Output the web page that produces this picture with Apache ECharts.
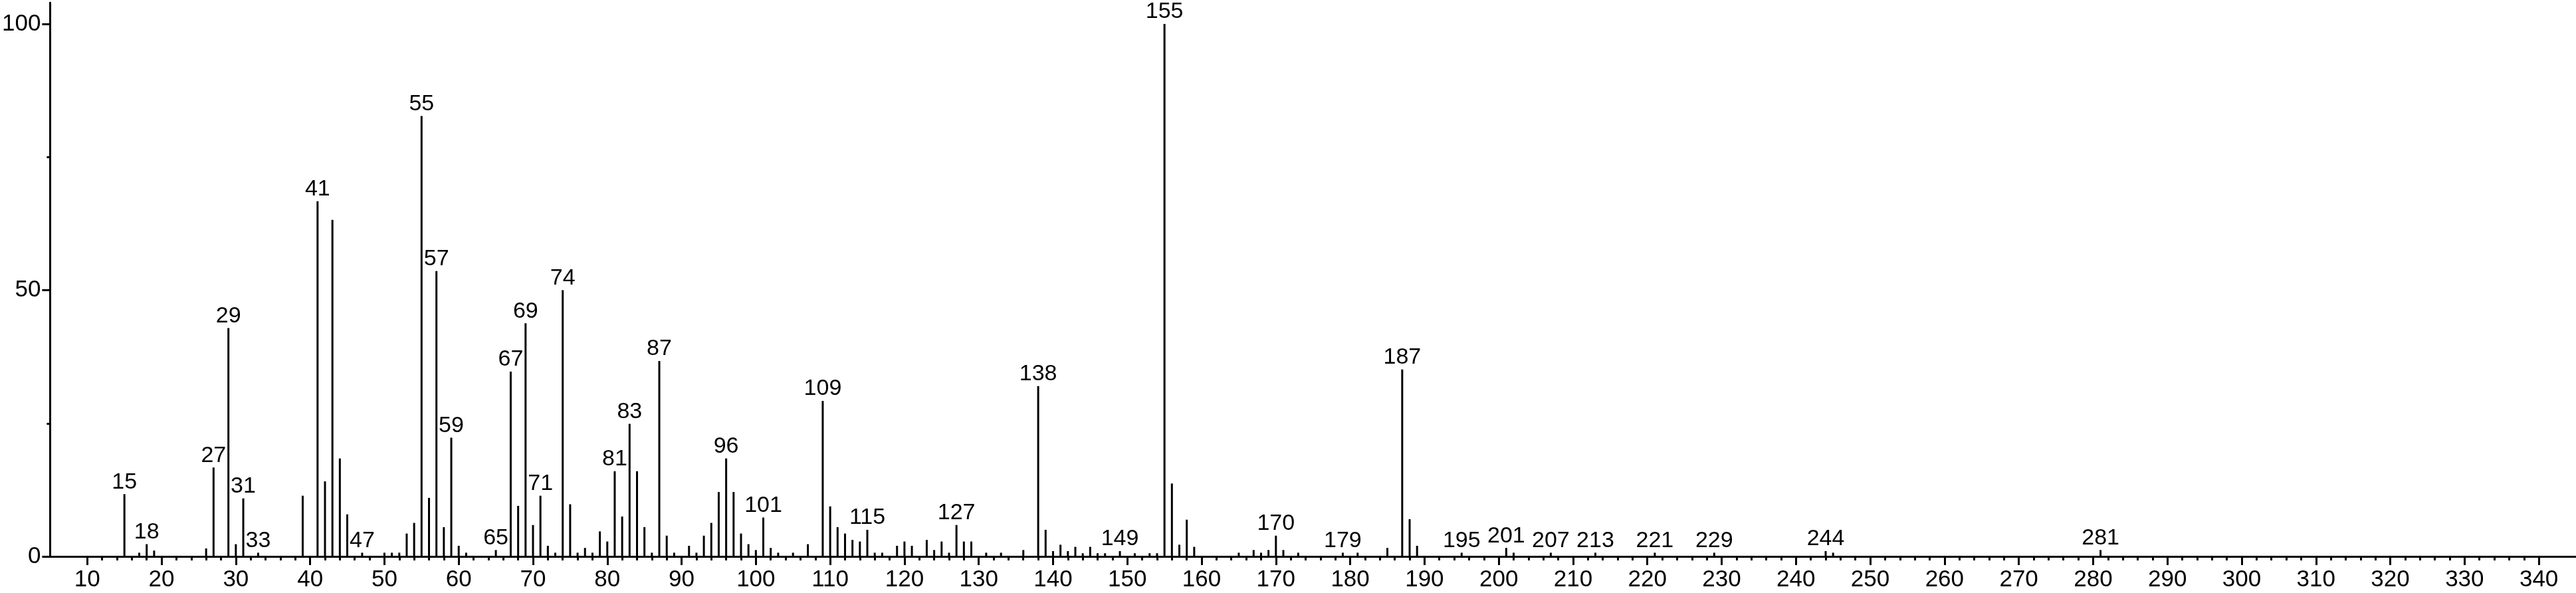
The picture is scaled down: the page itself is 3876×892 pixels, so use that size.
<!DOCTYPE html>
<html>
<head>
<meta charset="utf-8">
<script src="https://cdn.jsdelivr.net/npm/echarts@6/dist/echarts.min.js"></script>
<style>
html,body{margin:0;padding:0;background:#fff;}
#chart{width:3876px;height:892px;}
</style>
</head>
<body>
<div id="chart"></div>
<script>
// m/z values of the peaks
const mzValues = [15,17,18,19,26,27,29,30,31,33,39,41,42,43,44,45,47,50,51,52,53,54,55,56,57,58,59,60,61,65,67,68,69,70,71,72,73,74,75,76,77,78,79,80,81,82,83,84,85,86,87,88,89,91,92,93,94,95,96,97,98,99,100,101,102,103,105,107,109,110,111,112,113,114,115,116,117,119,120,121,123,124,125,126,127,128,129,131,133,136,138,139,140,141,142,143,144,145,146,147,149,151,153,154,155,156,157,158,159,165,167,168,169,170,171,173,179,181,185,187,188,189,195,201,202,207,213,221,229,244,245,281];
// relative intensities (%)
const intensities = [11.7,0.7,2.3,1.1,1.5,16.7,42.9,2.3,10.9,0.7,11.4,66.7,14.1,63.2,18.4,7.9,0.7,0.7,0.7,0.7,4.3,6.3,82.7,11.0,53.6,5.5,22.3,2.0,0.7,1.2,34.7,9.5,43.8,5.9,11.4,2.0,0.7,50.0,9.8,0.7,1.6,0.7,4.7,2.8,16.0,7.5,24.9,16.0,5.5,0.7,36.7,3.9,0.7,2.0,0.7,3.9,6.3,12.1,18.4,12.1,4.3,2.3,1.2,7.3,1.6,0.7,0.7,2.3,29.2,9.4,5.5,4.3,3.1,2.8,5.0,0.7,0.7,2.0,2.8,2.0,3.1,1.2,2.8,0.7,5.9,2.8,2.8,0.7,0.7,1.2,32.0,5.0,1.0,2.2,1.0,1.8,0.6,1.8,0.6,0.6,1.0,0.6,0.6,0.6,100,13.7,2.2,6.9,1.8,0.7,1.2,0.7,1.2,3.9,1.2,0.7,0.7,0.7,1.6,35.1,7.0,2.0,0.7,1.6,0.7,0.7,0.7,0.7,0.7,1.0,0.7,1.2];
// peaks that carry an m/z label
const labeledPeaks = [15,18,27,29,31,33,41,47,55,57,59,65,67,69,71,74,81,83,87,96,101,109,115,127,138,149,155,170,179,187,195,201,207,213,221,229,244,281];
// axis tick labels
const xTickLabels = [10,20,30,40,50,60,70,80,90,100,110,120,130,140,150,160,170,180,190,200,210,220,230,240,250,260,270,280,290,300,310,320,330,340];
const yTickLabels = [0,50,100];
const yMinorTicks = [25,75];

const xMinorTicks = [];
xTickLabels.forEach(function(t, i){
  if (i < xTickLabels.length - 1) { for (let k = 2; k < 10; k += 2) xMinorTicks.push(t + k); }
});

const FONT = '"Liberation Sans", Arial, Helvetica, sans-serif';

const barData = mzValues.map(function(m, i){
  const item = { value: [m, intensities[i]] };
  if (labeledPeaks.indexOf(m) >= 0) item.label = { show: true };
  return item;
});

const chart = echarts.init(document.getElementById('chart'), null, {renderer: 'canvas'});
chart.setOption({
  animation: false,
  backgroundColor: '#ffffff',
  grid: { left: 69, right: 0, top: 4, bottom: 55, containLabel: false },
  xAxis: [{
    type: 'value', min: 5, max: 345, position: 'bottom',
    axisLine: { show: true, onZero: false, lineStyle: { color: '#000', width: 3 } },
    axisTick: { show: true, inside: false, length: 13, customValues: xTickLabels, lineStyle: { color: '#000', width: 3 } },
    axisLabel: { show: true, customValues: xTickLabels, margin: 18, color: '#000', fontSize: 35, fontFamily: FONT },
    splitLine: { show: false }
  }, {
    type: 'value', min: 5, max: 345, position: 'bottom',
    axisLine: { show: false, onZero: false },
    axisTick: { show: true, inside: false, length: 6, customValues: xMinorTicks, lineStyle: { color: '#000', width: 3 } },
    axisLabel: { show: false },
    splitLine: { show: false }
  }],
  yAxis: [{
    type: 'value', min: 0, max: 104, position: 'left',
    axisLine: { show: true, onZero: false, lineStyle: { color: '#000', width: 3 } },
    axisTick: { show: true, inside: false, length: 12, customValues: yTickLabels, lineStyle: { color: '#000', width: 3 } },
    axisLabel: { show: true, customValues: yTickLabels, margin: 14, color: '#000', fontSize: 35, fontFamily: FONT },
    splitLine: { show: false }
  }, {
    type: 'value', min: 0, max: 104, position: 'left',
    axisLine: { show: false, onZero: false },
    axisTick: { show: true, inside: false, length: 5, customValues: yMinorTicks, lineStyle: { color: '#000', width: 3 } },
    axisLabel: { show: false },
    splitLine: { show: false }
  }],
  series: [{
    type: 'bar',
    xAxisIndex: 0, yAxisIndex: 0,
    barWidth: 3,
    itemStyle: { color: '#000' },
    label: {
      show: false, position: 'top', distance: 1,
      color: '#000', fontSize: 34, fontFamily: FONT,
      formatter: function(p){ return String(p.value[0]); }
    },
    data: barData
  }]
});
</script>
</body>
</html>
